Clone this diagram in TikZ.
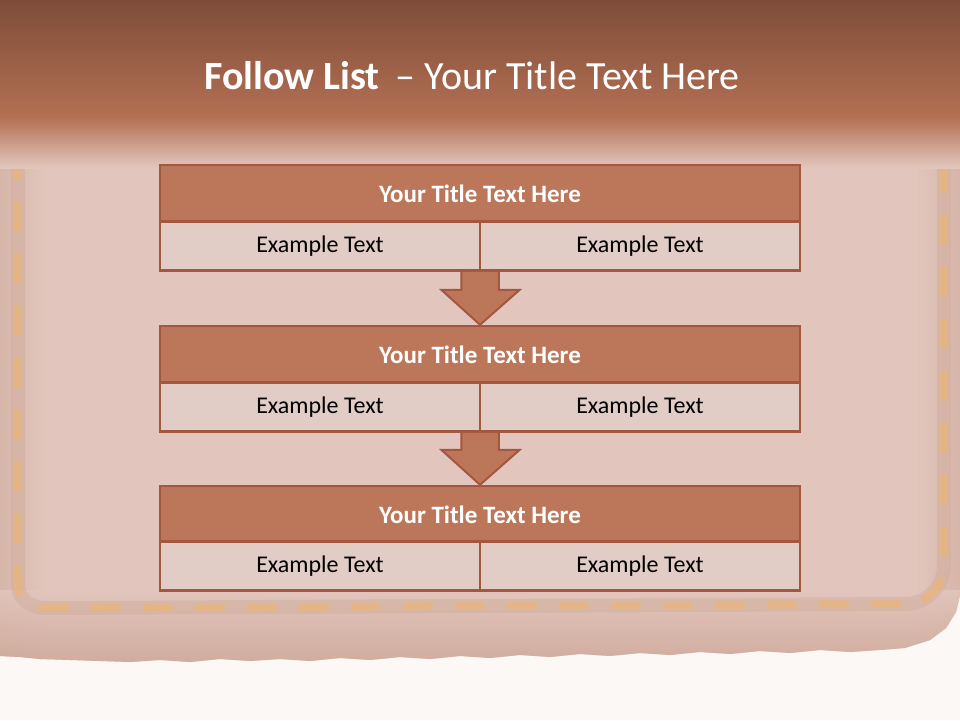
\documentclass[tikz,border=0pt]{standalone}
\usepackage{fontspec}
\setmainfont{Carlito}
\begin{document}
\begin{tikzpicture}[x=1pt,y=-1pt,
  hdr/.style={draw=boxline,line width=2.5pt,fill=hdrfill,minimum width=640pt,minimum height=57pt,inner sep=0pt,text=white,font=\fontsize{25}{28}\selectfont\bfseries},
  cell/.style={draw=boxline,line width=2.5pt,fill=cellfill,minimum width=320pt,minimum height=49pt,inner sep=0pt,text=black,font=\fontsize{24}{28}\selectfont},
  downarrow/.style={draw=boxline,line width=2pt,fill=hdrfill,line join=miter},
  stitch/.style={line width=8pt,draw=stitchcol,opacity=0.6,dash pattern=on 30pt off 22pt},
  stitchshadow/.style={line width=14pt,draw=leatherdark,opacity=0.35}]
\definecolor{boxline}{HTML}{A3573E}
\definecolor{hdrfill}{HTML}{BC775A}
\definecolor{cellfill}{HTML}{E1CCC6}
\definecolor{topdark}{HTML}{7E4D39}
\definecolor{topmid}{HTML}{B47053}
\definecolor{leather}{HTML}{E2C6BD}
\definecolor{leatherdark}{HTML}{CDA797}
\definecolor{paper}{HTML}{FCF8F5}
\definecolor{stitchcol}{HTML}{EDB56E}
\useasboundingbox (0,0) rectangle (960,720);
% paper
\fill[paper] (0,0) rectangle (960,720);
% leather body with ragged lower edge
\begin{scope}
\clip (0,0) -- (960,0) -- (960,595) -- (956,612) -- (946,628) -- (930,640) -- (905,648)
  -- (880,650) -- (850,652) -- (820,650) -- (790,653) -- (760,651) -- (730,654) -- (700,652)
  -- (670,655) -- (640,653) -- (610,656) -- (580,654) -- (550,657) -- (520,655) -- (490,658)
  -- (460,656) -- (430,659) -- (400,657) -- (370,660) -- (340,658) -- (310,661) -- (280,659)
  -- (250,661) -- (220,659) -- (190,662) -- (160,660) -- (130,662) -- (100,661) -- (70,660)
  -- (40,659) -- (20,657) -- (0,656) -- cycle;
\fill[leather] (0,0) rectangle (960,720);
\shade[left color=leatherdark,right color=leather,opacity=0.5] (0,0) rectangle (45,665);
\shade[left color=leather,right color=leatherdark,opacity=0.5] (915,0) rectangle (960,665);
\shade[top color=leather,bottom color=leatherdark,opacity=0.85] (0,590) rectangle (960,665);
\end{scope}
% stitching
\coordinate (sl0) at (18,150);
\coordinate (sl1) at (18,585);
\coordinate (sb0) at (45,608);
\coordinate (sb1) at (905,604);
\coordinate (sr0) at (944,130);
\coordinate (sr1) at (944,565);
\draw[stitchshadow] (sl0) -- (sl1) to[out=-90,in=180] (sb0) -- (sb1) to[out=0,in=-90] (sr1) -- (sr0);
\draw[stitch] (sl0) -- (sl1) to[out=-90,in=180] (sb0) -- (sb1) to[out=0,in=-90] (sr1) -- (sr0);
% top band
\shade[top color=topdark,bottom color=topmid] (0,0) rectangle (960,118);
\shade[top color=topmid,bottom color=leather] (0,118) rectangle (960,168);
% title
\node[text=white,font=\fontsize{40}{46}\selectfont] (title) at (472,76)
  {\textbf{Follow List}\hspace{0.4em}\textendash\ Your Title Text Here};
% boxes
\node[hdr] (h1) at (480,193.5) {Your Title Text Here};
\node[cell] (l1) at (320,246) {Example Text};
\node[cell] (r1) at (640,246) {Example Text};
\node[hdr] (h2) at (480,354.5) {Your Title Text Here};
\node[cell] (l2) at (320,407) {Example Text};
\node[cell] (r2) at (640,407) {Example Text};
\node[hdr] (h3) at (480,514.5) {Your Title Text Here};
\node[cell] (l3) at (320,566) {Example Text};
\node[cell] (r3) at (640,566) {Example Text};
% arrows
\draw[downarrow] ([xshift=-20pt]l1.south east) -- ([xshift=-20pt,yshift=-18pt]l1.south east)
  -- ([xshift=-40pt,yshift=-18pt]l1.south east) -- (h2.north) -- ([xshift=41pt,yshift=-18pt]r1.south west)
  -- ([xshift=20pt,yshift=-18pt]r1.south west) -- ([xshift=20pt]r1.south west);
\draw[downarrow] ([xshift=-20pt]l2.south east) -- ([xshift=-20pt,yshift=-17pt]l2.south east)
  -- ([xshift=-40pt,yshift=-17pt]l2.south east) -- (h3.north) -- ([xshift=41pt,yshift=-17pt]r2.south west)
  -- ([xshift=20pt,yshift=-17pt]r2.south west) -- ([xshift=20pt]r2.south west);
\end{tikzpicture}
\end{document}
